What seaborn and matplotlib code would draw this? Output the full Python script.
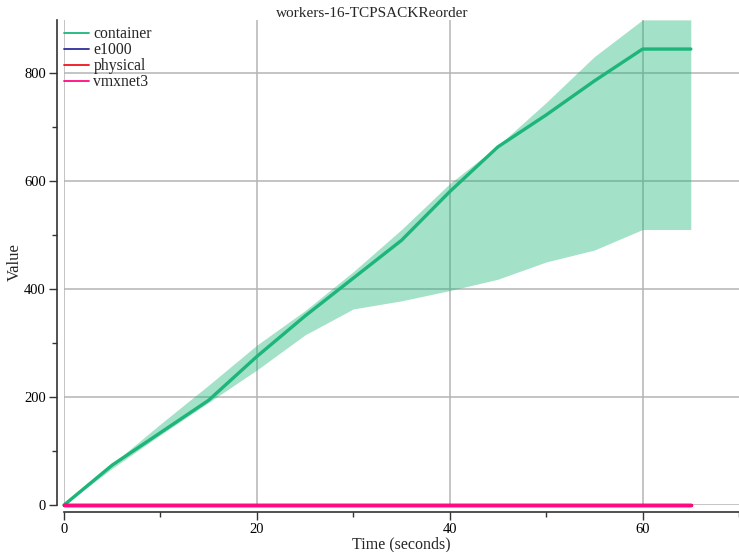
import matplotlib
matplotlib.use("Agg")
import matplotlib.pyplot as plt
import seaborn as sns
import pandas as pd
import numpy as np
from matplotlib.ticker import MultipleLocator

# Data
time_s = [0, 5, 10, 15, 20, 25, 30, 35, 40, 45, 50, 55, 60, 65]
container_mean = [0, 74, 134, 194, 275, 350, 420, 490, 580, 663, 722, 785, 844, 844]
container_low = [0, 68, 130, 190, 250, 315, 363, 378, 397, 418, 450, 472, 510, 510]
container_high = [0, 76, 150, 222, 296, 360, 432, 510, 595, 665, 745, 830, 898, 898]
e1000_mean = [0] * len(time_s)
physical_mean = [0] * len(time_s)
vmxnet3_mean = [0] * len(time_s)

series = ['container', 'e1000', 'physical', 'vmxnet3']
colors = {'container': '#1db57a', 'e1000': '#2e2e9a',
          'physical': '#f0141e', 'vmxnet3': '#ff0a80'}

rows = []
for name, vals in zip(series, [container_mean, e1000_mean, physical_mean, vmxnet3_mean]):
    for t, v in zip(time_s, vals):
        rows.append({'Time': t, 'Value': v, 'config': name})
df = pd.DataFrame(rows)

sns.set_style('ticks')
plt.rcParams['font.family'] = ['Liberation Serif', 'DejaVu Serif']

fig = plt.figure(figsize=(7.39, 5.52), dpi=100)
ax = fig.add_axes([0.0866, 0.085, 0.9134, 0.879])

ax.fill_between(time_s, container_low, container_high,
                color=colors['container'], alpha=0.4, linewidth=0)
sns.lineplot(data=df, x='Time', y='Value', hue='config', hue_order=series,
             palette=colors, linewidth=2.4, ax=ax, errorbar=None)
for line in ax.lines:
    line.set_clip_on(False)

ax.set_xlim(0, 70)
ax.set_ylim(0, 898)
ax.xaxis.set_major_locator(MultipleLocator(20))
ax.xaxis.set_minor_locator(MultipleLocator(10))
ax.yaxis.set_major_locator(MultipleLocator(200))
ax.yaxis.set_minor_locator(MultipleLocator(100))
ax.grid(True, which='major', color='#b4b4b4', linewidth=1.1)
ax.set_axisbelow(True)
ax.tick_params(which='major', length=6, width=1, labelsize=10.5, colors='#333333',
               labelcolor='black', pad=2)
ax.tick_params(which='minor', length=3.5, width=1, colors='#333333')

ax.set_title('workers-16-TCPSACKReorder', fontsize=11, pad=1.5, x=0.456)
ax.set_xlabel('Time (seconds)', fontsize=11.5, labelpad=0)
ax.set_ylabel('Value', fontsize=12, labelpad=1)

sns.despine(ax=ax, offset=5)
for sp in ['left', 'bottom']:
    ax.spines[sp].set_color('#333333')
    ax.spines[sp].set_linewidth(1.2)

leg = ax.legend(loc='upper left', frameon=False, fontsize=11.3,
                borderaxespad=0.3, handlelength=1.6, labelspacing=0.0,
                handletextpad=0.3, borderpad=0.1)
leg.set_bbox_to_anchor((-0.01, 1.0), transform=ax.transAxes)
for line in leg.get_lines():
    line.set_linewidth(1.3)

fig.savefig('out.png', dpi=100)
